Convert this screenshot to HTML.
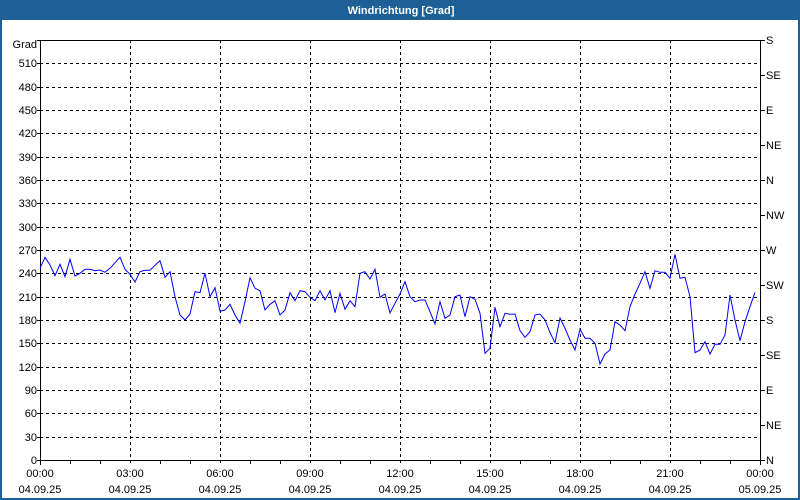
<!DOCTYPE html>
<html>
<head>
<meta charset="utf-8">
<style>
html,body{margin:0;padding:0;background:#fff;}
body{width:800px;height:500px;overflow:hidden;}
svg{display:block;}
text{font-family:"Liberation Sans","DejaVu Sans",sans-serif;font-size:11px;fill:#000;}
</style>
</head>
<body>
<svg width="800" height="500" viewBox="0 0 800 500" xmlns="http://www.w3.org/2000/svg">
<rect x="0" y="0" width="800" height="500" fill="#1e5f96"/>
<rect x="2" y="20" width="796" height="478" fill="#ffffff"/>
<text x="401" y="14" text-anchor="middle" style="fill:#fff;font-weight:bold;font-size:11px;">Windrichtung [Grad]</text>

<g stroke="#000" stroke-width="1" stroke-dasharray="3,3" fill="none" shape-rendering="crispEdges">
<line x1="40" y1="437.5" x2="760" y2="437.5"/>
<line x1="40" y1="413.5" x2="760" y2="413.5"/>
<line x1="40" y1="390.5" x2="760" y2="390.5"/>
<line x1="40" y1="367.5" x2="760" y2="367.5"/>
<line x1="40" y1="343.5" x2="760" y2="343.5"/>
<line x1="40" y1="320.5" x2="760" y2="320.5"/>
<line x1="40" y1="297.5" x2="760" y2="297.5"/>
<line x1="40" y1="273.5" x2="760" y2="273.5"/>
<line x1="40" y1="250.5" x2="760" y2="250.5"/>
<line x1="40" y1="227.5" x2="760" y2="227.5"/>
<line x1="40" y1="203.5" x2="760" y2="203.5"/>
<line x1="40" y1="180.5" x2="760" y2="180.5"/>
<line x1="40" y1="157.5" x2="760" y2="157.5"/>
<line x1="40" y1="133.5" x2="760" y2="133.5"/>
<line x1="40" y1="110.5" x2="760" y2="110.5"/>
<line x1="40" y1="87.5" x2="760" y2="87.5"/>
<line x1="40" y1="63.5" x2="760" y2="63.5"/>
<line x1="130.5" y1="40" x2="130.5" y2="465"/>
<line x1="220.5" y1="40" x2="220.5" y2="465"/>
<line x1="310.5" y1="40" x2="310.5" y2="465"/>
<line x1="400.5" y1="40" x2="400.5" y2="465"/>
<line x1="490.5" y1="40" x2="490.5" y2="465"/>
<line x1="580.5" y1="40" x2="580.5" y2="465"/>
<line x1="670.5" y1="40" x2="670.5" y2="465"/>
</g>

<g stroke="#000" stroke-width="1" fill="none" shape-rendering="crispEdges">
<rect x="40.5" y="40.5" width="720" height="420"/>
<!-- left ticks -->
<path d="M37 460.5H40M37 437.5H40M37 413.5H40M37 390.5H40M37 367.5H40M37 343.5H40M37 320.5H40M37 297.5H40M37 273.5H40M37 250.5H40M37 227.5H40M37 203.5H40M37 180.5H40M37 157.5H40M37 133.5H40M37 110.5H40M37 87.5H40M37 63.5H40M37 40.5H40"/>
<!-- right ticks -->
<path d="M761 460.5H765M761 425.5H765M761 390.5H765M761 355.5H765M761 320.5H765M761 285.5H765M761 250.5H765M761 215.5H765M761 180.5H765M761 145.5H765M761 110.5H765M761 75.5H765M761 40.5H765"/>
<!-- bottom ticks -->
<path d="M40.5 461V465M70.5 461V464M100.5 461V464M160.5 461V464M190.5 461V464M250.5 461V464M280.5 461V464M340.5 461V464M370.5 461V464M430.5 461V464M460.5 461V464M520.5 461V464M550.5 461V464M610.5 461V464M640.5 461V464M700.5 461V464M730.5 461V464M760.5 461V465"/>
</g>

<g text-anchor="end">
<text x="37" y="48">Grad</text>
<text x="37" y="67">510</text>
<text x="37" y="91">480</text>
<text x="37" y="114">450</text>
<text x="37" y="137">420</text>
<text x="37" y="161">390</text>
<text x="37" y="184">360</text>
<text x="37" y="207">330</text>
<text x="37" y="231">300</text>
<text x="37" y="254">270</text>
<text x="37" y="277">240</text>
<text x="37" y="301">210</text>
<text x="37" y="324">180</text>
<text x="37" y="347">150</text>
<text x="37" y="371">120</text>
<text x="37" y="394">90</text>
<text x="37" y="417">60</text>
<text x="37" y="441">30</text>
<text x="37" y="464">0</text>
</g>

<g text-anchor="start">
<text x="766" y="44">S</text>
<text x="766" y="79">SE</text>
<text x="766" y="114">E</text>
<text x="766" y="149">NE</text>
<text x="766" y="184">N</text>
<text x="766" y="219">NW</text>
<text x="766" y="254">W</text>
<text x="766" y="289">SW</text>
<text x="766" y="324">S</text>
<text x="766" y="359">SE</text>
<text x="766" y="394">E</text>
<text x="766" y="429">NE</text>
<text x="766" y="464">N</text>
</g>

<g text-anchor="middle">
<text x="40" y="477">00:00</text>
<text x="130" y="477">03:00</text>
<text x="220" y="477">06:00</text>
<text x="310" y="477">09:00</text>
<text x="400" y="477">12:00</text>
<text x="490" y="477">15:00</text>
<text x="580" y="477">18:00</text>
<text x="670" y="477">21:00</text>
<text x="760" y="477">00:00</text>
<text x="40" y="493">04.09.25</text>
<text x="130" y="493">04.09.25</text>
<text x="220" y="493">04.09.25</text>
<text x="310" y="493">04.09.25</text>
<text x="400" y="493">04.09.25</text>
<text x="490" y="493">04.09.25</text>
<text x="580" y="493">04.09.25</text>
<text x="670" y="493">04.09.25</text>
<text x="760" y="493">05.09.25</text>
</g>

<polyline fill="none" stroke="#0000ff" stroke-width="1" points="
40,268.3 45,257.3 50,265 55,275.7 60,264.3 65,276.7 70,259.3 75,276 80,273.3 85,269.3
90,269.3 95,270.7 100,270 105,272.3 110,268.3 115,262.7 120,257.3 125,269.3 130,274.3 135,282
140,271.7 145,270.3 150,270.3 155,265.3 160,260.7 165,277.3 170,271.7 175,296.7 180,315 185,320
190,314 195,291.7 200,292.7 205,273.3 210,296.7 215,287.7 220,311 225,310 230,304.3 235,315
240,323.3 245,301.7 250,277.7 255,288.3 260,290.7 265,310 270,304.3 275,300.7 280,315 285,310
290,292.7 295,300.7 300,290.7 305,291.7 310,297.3 315,300.7 320,290.7 325,300 330,290.7 335,312.7
340,293.3 345,309.3 350,300.7 355,306.7 360,273.3 365,271.7 370,279 375,269.3 380,297.3 385,294
390,313 395,303.3 400,294 405,281.7 410,296.7 415,301.7 420,300 425,300 430,311.7 435,324
440,301.7 445,318.3 450,315 455,296.7 460,295 465,316.7 470,296.7 475,299.3 480,313.3 485,353.3
490,348.3 495,307.3 500,326.7 505,313.3 510,314.3 515,314 520,330.7 525,337.3 530,331.7 535,315
540,314 545,320 550,332.5 555,342.7 560,318 565,328.3 570,340 575,350 580,329.3 585,338.3
590,338.3 595,343.3 600,364 605,354 610,350 615,321.7 620,325 625,330.7 630,306.7 635,294
640,283.3 645,271.7 650,288.3 655,270.7 660,272.3 665,272.3 670,278.3 675,254.3 680,278.3 685,277.3
690,296.7 695,352.7 700,350 705,341.7 710,354 715,344.3 720,344.3 725,335 730,295 735,320
740,340.7 745,321.7 750,306.7 755,292.3"/>
</svg>
</body>
</html>
